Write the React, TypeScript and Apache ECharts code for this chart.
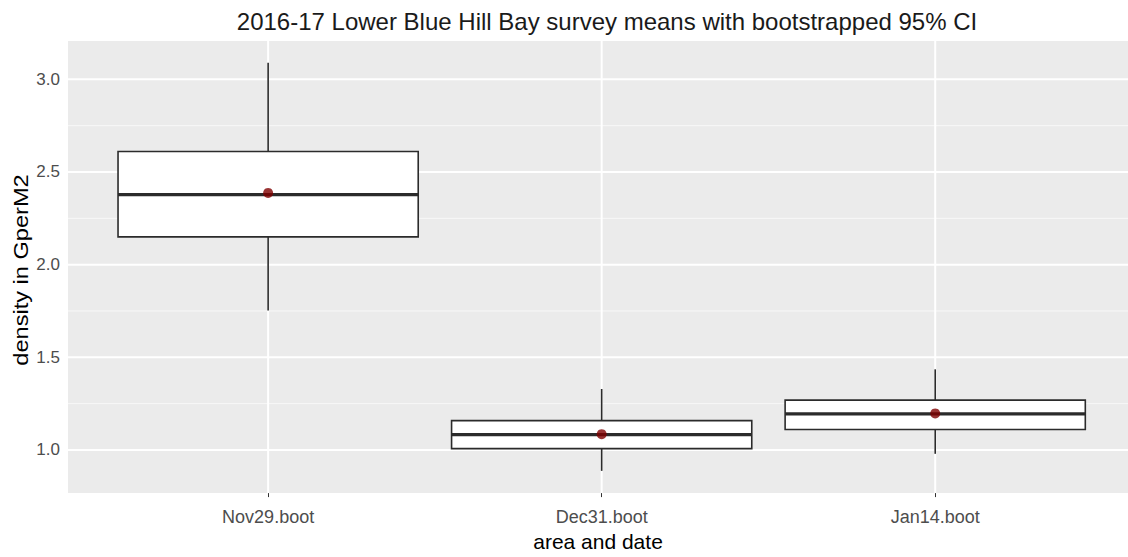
import React, { useEffect, useRef } from "react";
import * as echarts from "echarts";

const categories = ["Nov29.boot", "Dec31.boot", "Jan14.boot"];
const lowerCI = [1.753, 0.887, 0.979];
const q1 = [2.15, 1.007, 1.11];
const medians = [2.378, 1.083, 1.195];
const q3 = [2.611, 1.158, 1.269];
const upperCI = [3.09, 1.329, 1.435];
const means = [2.387, 1.085, 1.197];
const yTicks = [1.0, 1.5, 2.0, 2.5, 3.0];
const yMinor = [1.25, 1.75, 2.25, 2.75];

const FONT = "'Liberation Sans', Arial, sans-serif";

export default function App() {
  const ref = useRef<HTMLDivElement>(null);
  useEffect(() => {
    if (!ref.current) return;
    const chart = echarts.init(ref.current, null, { renderer: "svg" });
    const idx = categories.map((_, i) => i);
    const boxData = idx.map((i) => [i, lowerCI[i], q1[i], medians[i], q3[i], upperCI[i]]);
    const meanData = idx.map((i) => [i, means[i]]);
    // gridline data: [kind, value]; kind 0 = major horizontal, 1 = minor horizontal, 2 = vertical
    const gridData = [
      ...yTicks.map((v) => [0, v]),
      ...yMinor.map((v) => [1, v]),
      ...idx.map((v) => [2, v]),
    ];
    chart.setOption({
      animation: false,
      textStyle: { fontFamily: FONT },
      title: {
        text: "2016-17 Lower Blue Hill Bay survey means with bootstrapped 95% CI",
        left: 602,
        top: 4,
        textAlign: "center",
        textStyle: { fontFamily: FONT, fontSize: 24, fontWeight: "normal", color: "#1a1a1a" },
      },
      grid: {
        left: 68,
        right: 0,
        top: 41,
        bottom: 57,
        show: true,
        backgroundColor: "#EBEBEB",
        borderWidth: 0,
        containLabel: false,
      },
      graphic: [
        {
          type: "text",
          x: 21,
          y: 270,
          rotation: Math.PI / 2,
          scaleX: 1.18,
          style: {
            text: "density in GperM2",
            fontFamily: FONT,
            fontSize: 20,
            fill: "#000000",
            align: "center",
            verticalAlign: "middle",
          },
        },
      ],
      xAxis: {
        type: "value",
        min: -0.6,
        max: 2.578,
        name: "area and date",
        nameLocation: "middle",
        nameGap: 22,
        nameTextStyle: { fontFamily: FONT, fontSize: 21, color: "#000000" },
        axisLine: { show: false },
        splitLine: { show: false },
        axisTick: { show: true, customValues: idx, length: 4, lineStyle: { color: "#333333", width: 1 } },
        axisLabel: {
          customValues: idx,
          margin: 15,
          fontFamily: FONT,
          fontSize: 18,
          color: "#4D4D4D",
          formatter: (v: number) => categories[Math.round(v)] ?? "",
        },
      },
      yAxis: {
        type: "value",
        min: 0.767,
        max: 3.207,
        axisLine: { show: false },
        splitLine: { show: false },
        axisTick: { show: true, customValues: yTicks, length: 4, lineStyle: { color: "#333333", width: 1 } },
        axisLabel: {
          customValues: yTicks,
          margin: 8,
          fontFamily: FONT,
          fontSize: 17,
          color: "#4D4D4D",
          formatter: (v: number) => v.toFixed(1),
        },
      },
      series: [
        {
          type: "custom",
          z: 1,
          silent: true,
          data: gridData,
          renderItem: (params: any, api: any) => {
            const kind = api.value(0);
            const v = api.value(1);
            const cs = params.coordSys;
            if (kind === 2) {
              const px = api.coord([v, 2])[0];
              return {
                type: "line",
                shape: { x1: px, y1: cs.y, x2: px, y2: cs.y + cs.height },
                style: { stroke: "#ffffff", lineWidth: 2 },
              };
            }
            const py = api.coord([0, v])[1];
            return {
              type: "line",
              shape: { x1: cs.x, y1: py, x2: cs.x + cs.width, y2: py },
              style: { stroke: kind === 0 ? "#ffffff" : "#f8f8f8", lineWidth: kind === 0 ? 2 : 1 },
            };
          },
        },
        {
          type: "custom",
          z: 2,
          data: boxData,
          renderItem: (params: any, api: any) => {
            const i = api.value(0);
            const lo = api.coord([i, api.value(1)]);
            const b1 = api.coord([i, api.value(2)]);
            const md = api.coord([i, api.value(3)]);
            const b3 = api.coord([i, api.value(4)]);
            const hi = api.coord([i, api.value(5)]);
            const half = api.size([0.9, 0])[0] / 2;
            const x = lo[0];
            const stroke = "#2b2b2b";
            return {
              type: "group",
              children: [
                { type: "line", shape: { x1: x, y1: b3[1], x2: x, y2: hi[1] }, style: { stroke, lineWidth: 1.6 } },
                { type: "line", shape: { x1: x, y1: lo[1], x2: x, y2: b1[1] }, style: { stroke, lineWidth: 1.6 } },
                {
                  type: "rect",
                  shape: { x: x - half, y: b3[1], width: half * 2, height: b1[1] - b3[1] },
                  style: { fill: "#ffffff", stroke, lineWidth: 1.6 },
                },
                { type: "line", shape: { x1: x - half, y1: md[1], x2: x + half, y2: md[1] }, style: { stroke, lineWidth: 3.2 } },
              ],
            };
          },
        },
        {
          type: "scatter",
          z: 3,
          data: meanData,
          symbol: "circle",
          symbolSize: 10,
          itemStyle: { color: "#7f0000" },
        },
      ],
    });
    return () => chart.dispose();
  }, []);
  return (
    <div
      ref={ref}
      style={{ position: "fixed", left: 0, top: 0, width: 1128, height: 557, background: "#ffffff" }}
    />
  );
}
